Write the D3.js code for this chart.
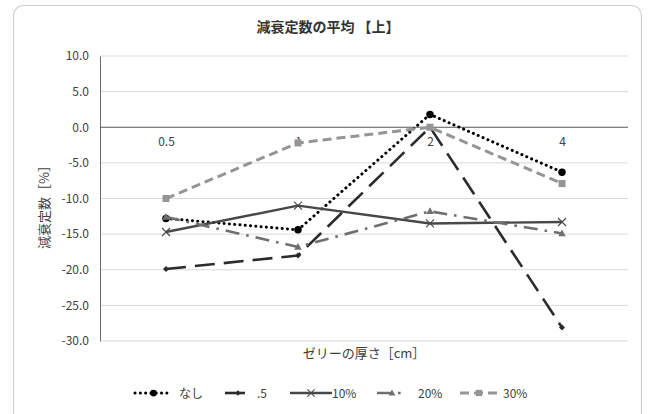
<!DOCTYPE html>
<html>
<head>
<meta charset="utf-8">
<script src="https://cdn.jsdelivr.net/npm/d3@7"></script>
<style>
  html, body { margin: 0; padding: 0; background: #fff; }
  svg { display: block; font-family: "Noto Sans CJK JP", "Noto Sans", sans-serif; }
</style>
</head>
<body>
<svg id="chart" width="651" height="414"></svg>
<script>
// Gel thickness categories (cm)
const categories = ["0.5", "1", "2", "4"];

// Mean attenuation constant (%) per series
const seriesNames = ["なし", ".5", "10%", "20%", "30%"];
const valuesNashi = [-12.8, -14.4, 1.8, -6.3];
const valuesP5    = [-19.9, -18.0, 0.0, -28.1];
const values10    = [-14.7, -11.0, -13.5, -13.3];
const values20    = [-12.6, -16.8, -11.8, -14.9];
const values30    = [-10.0, -2.2, 0.0, -7.9];

const yTicks = [10, 5, 0, -5, -10, -15, -20, -25, -30];

const series = [
  { name: seriesNames[0], values: valuesNashi, color: "#000000", width: 3,   dash: "0.1 5.2", cap: "round", marker: "circle" },
  { name: seriesNames[1], values: valuesP5,    color: "#2b2b2b", width: 2.6, dash: "20 9",    cap: "butt",  marker: "diamond" },
  { name: seriesNames[2], values: values10,    color: "#484848", width: 2.4, dash: null,      cap: "butt",  marker: "x" },
  { name: seriesNames[3], values: values20,    color: "#6f6f6f", width: 2.6, dash: "14 7 2.6 7", cap: "butt", marker: "triangle" },
  { name: seriesNames[4], values: values30,    color: "#959595", width: 3,   dash: "9 5",     cap: "butt",  marker: "square" }
];

const svg = d3.select("#chart");

// Outer frame of the chart
svg.append("rect")
  .attr("x", 13.5).attr("y", 5.5)
  .attr("width", 628).attr("height", 420)
  .attr("rx", 10).attr("ry", 10)
  .attr("fill", "#fff").attr("stroke", "#d0d0d0").attr("stroke-width", 1.2);

const plot = { left: 100, right: 628, top: 56, bottom: 341 };

const x = d3.scalePoint().domain(categories).range([plot.left, plot.right]).padding(0.5);
const y = d3.scaleLinear().domain([-30, 10]).range([plot.bottom, plot.top]);

const fmt = v => d3.format(".1f")(v).replace("−", "-");

// Title
svg.append("text")
  .attr("x", 328).attr("y", 32)
  .attr("text-anchor", "middle")
  .attr("font-size", 14).attr("font-weight", "bold").attr("fill", "#333")
  .text("減衰定数の平均 【上】");

// Horizontal gridlines
svg.append("g").selectAll("line")
  .data(yTicks.filter(t => t !== 0))
  .join("line")
  .attr("x1", plot.left).attr("x2", plot.right)
  .attr("y1", d => y(d)).attr("y2", d => y(d))
  .attr("stroke", "#d9d9d9").attr("stroke-width", 1);

// Y axis
const yAxis = svg.append("g")
  .attr("transform", `translate(${plot.left},0)`)
  .call(d3.axisLeft(y).tickValues(yTicks).tickFormat(fmt).tickSize(0).tickPadding(11));
yAxis.select(".domain").attr("stroke", "#6a6a6a");
yAxis.selectAll("text").attr("font-size", 12).attr("fill", "#404040")
  .attr("font-family", "'Noto Sans CJK JP', 'Noto Sans', sans-serif");

// Zero line acting as the category axis
const xAxis = svg.append("g")
  .attr("transform", `translate(0,${y(0)})`)
  .call(d3.axisBottom(x).tickSize(0).tickPadding(10));
xAxis.select(".domain").attr("stroke", "#595959").attr("stroke-width", 1.2)
  .attr("d", `M${plot.left},0H${plot.right}`);
xAxis.selectAll("text").attr("font-size", 12).attr("fill", "#404040")
  .attr("font-family", "'Noto Sans CJK JP', 'Noto Sans', sans-serif");

// Axis titles
svg.append("text")
  .attr("transform", `translate(49,${204}) rotate(-90)`)
  .attr("text-anchor", "middle")
  .attr("font-size", 13).attr("fill", "#404040")
  .text("減衰定数［%］");

svg.append("text")
  .attr("x", (plot.left + plot.right) / 2).attr("y", 358)
  .attr("text-anchor", "middle")
  .attr("font-size", 13).attr("fill", "#404040")
  .text("ゼリーの厚さ［cm］");

// Marker drawing
function drawMarker(g, type, color, size) {
  const s = size;
  if (type === "circle") {
    g.append("circle").attr("r", s * 0.75).attr("fill", color);
  } else if (type === "diamond") {
    g.append("path").attr("d", `M0,${-s*0.6}L${s*0.6},0L0,${s*0.6}L${-s*0.6},0Z`).attr("fill", color);
  } else if (type === "x") {
    g.append("path").attr("d", `M${-s*0.8},${-s*0.8}L${s*0.8},${s*0.8}M${-s*0.8},${s*0.8}L${s*0.8},${-s*0.8}`)
      .attr("stroke", color).attr("stroke-width", 1.1).attr("fill", "none");
  } else if (type === "triangle") {
    g.append("path").attr("d", `M0,${-s*0.8}L${s*0.75},${s*0.55}L${-s*0.75},${s*0.55}Z`).attr("fill", color);
  } else if (type === "square") {
    g.append("rect").attr("x", -s*0.7).attr("y", -s*0.7).attr("width", s*1.4).attr("height", s*1.4).attr("fill", color);
  }
}

const line = d3.line().x((d, i) => x(categories[i])).y(d => y(d));

// Series lines and markers
series.forEach(s => {
  svg.append("path")
    .datum(s.values)
    .attr("d", line)
    .attr("fill", "none")
    .attr("stroke", s.color)
    .attr("stroke-width", s.width)
    .attr("stroke-linecap", s.cap)
    .attr("stroke-linejoin", "round")
    .attr("stroke-dasharray", s.dash);
  s.values.forEach((v, i) => {
    const g = svg.append("g").attr("transform", `translate(${x(categories[i])},${y(v)})`);
    drawMarker(g, s.marker, s.color, 5);
  });
});

// Legend
const legendItems = [
  { x0: 135, x1: 172, tx: 179 },
  { x0: 225, x1: 251, tx: 257 },
  { x0: 290, x1: 332, tx: 332 },
  { x0: 377, x1: 407, tx: 418 },
  { x0: 460, x1: 498, tx: 503 }
];
const legendY = 393;
series.forEach((s, i) => {
  const it = legendItems[i];
  svg.append("line")
    .attr("x1", it.x0).attr("x2", it.x1)
    .attr("y1", legendY).attr("y2", legendY)
    .attr("stroke", s.color).attr("stroke-width", s.width)
    .attr("stroke-linecap", s.cap)
    .attr("stroke-dasharray", s.dash);
  const g = svg.append("g").attr("transform", `translate(${(it.x0 + it.x1) / 2},${legendY})`);
  drawMarker(g, s.marker, s.color, 4.5);
  svg.append("text")
    .attr("x", it.tx).attr("y", legendY + 4.5)
    .attr("font-size", 12).attr("fill", "#404040")
    .text(s.name);
});
</script>
</body>
</html>
